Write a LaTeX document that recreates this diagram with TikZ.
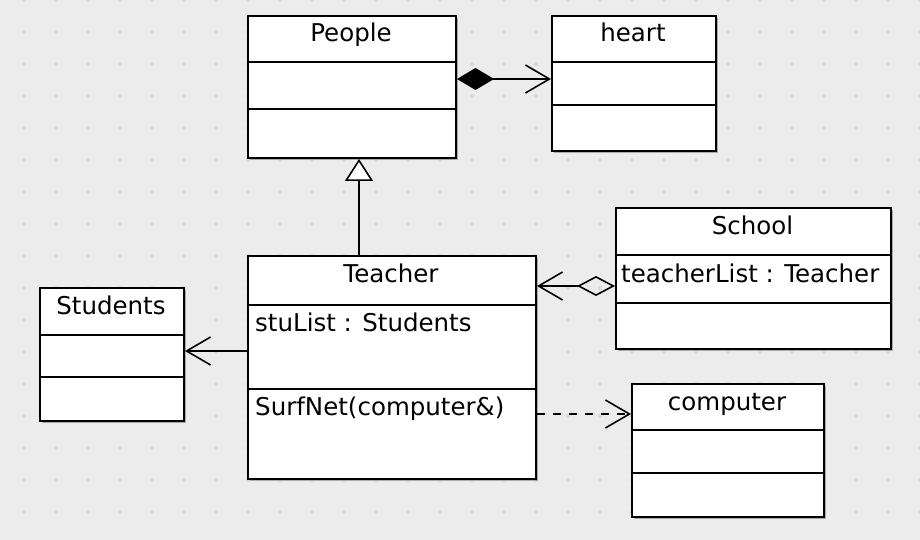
\documentclass[tikz,border=0pt]{standalone}
\usepackage{fontspec}
\setmainfont{DejaVu Sans}
\usetikzlibrary{arrows.meta}
\definecolor{bgcol}{HTML}{ECECEC}
\definecolor{dotcol}{HTML}{DADADA}
\definecolor{shadowcol}{HTML}{ABABAB}
\tikzset{
  classbox/.style={draw=black, fill=white, line width=2pt, inner sep=0pt, rectangle},
  classline/.style={draw=black, line width=2pt},
  titletext/.style={anchor=base, inner sep=0pt, font=\fontsize{24.5}{28}\selectfont},
  attrtext/.style={anchor=base west, inner sep=0pt, font=\fontsize{24.5}{28}\selectfont},
  conn/.style={draw=black, line width=2pt},
  openhead/.style={-{Straight Barb[length=24pt,width=28pt,line width=1.6pt]}},
}
\newcommand\umlclass[8]{%
  \fill[shadowcol] (#2+3,#3+3) rectangle (#4+3,#5+3);
  \node[classbox, minimum width={#4-#2}, minimum height={#5-#3}, anchor=north west] (#1) at (#2,#3) {};
  \draw[classline] (#2,#6) -- (#4,#6);
  \draw[classline] (#2,#7) -- (#4,#7);
  \node[titletext] (#1-title) at ({(#2+#4)/2},#3+27) {#8};
}
\begin{document}
\begin{tikzpicture}[x=1pt,y=-1pt]
\fill[bgcol] (0,0) rectangle (920,540);
\useasboundingbox (0,0) rectangle (920,540);
\foreach \xx in {24,56,...,920} {
  \foreach \yy in {0,32,...,540} {
    \fill[dotcol] (\xx-2,\yy-2) rectangle (\xx+2,\yy+2);
  }
}
\umlclass{People}{247}{15}{455}{157}{62}{109}{People}
\umlclass{heart}{551}{15}{715}{150}{62}{105}{heart}
\umlclass{Teacher}{247}{255}{535}{478}{305}{389}{Teacher}
\umlclass{Students}{39}{287}{183}{420}{335}{377}{Students}
\umlclass{School}{615}{207}{890}{348}{255}{303}{School}
\umlclass{computer}{631}{383}{823}{516}{430}{473}{computer}

\node[attrtext] (stulist) at (255,331) {stuList : Students};
\node[attrtext] (surfnet) at (255,415) {SurfNet(computer\&)};
\node[attrtext] (teacherlist) at (621,282) {teacherList : Teacher};

% composition People -> heart
\coordinate (pA) at ([yshift=-64pt]People.north east);
\draw[conn, {Diamond[length=37pt,width=22pt]}-{Straight Barb[length=24pt,width=28pt,line width=1.6pt]}] (pA) -- (pA -| heart.west);

% generalization Teacher -> People
\coordinate (gA) at ([xshift=112pt]Teacher.north west);
\draw[conn, -{Triangle[open,length=22pt,width=28pt,fill=white,line width=1.6pt]}] (gA) -- (gA |- People.south);

% association Teacher -> Students
\coordinate (tA) at ([yshift=-96pt]Teacher.north west);
\draw[conn, openhead] (tA) -- (tA -| Students.east);

% aggregation School -> Teacher
\coordinate (sA) at ([yshift=-79pt]School.north west);
\draw[conn, {Diamond[open,length=38pt,width=20pt,line width=1.6pt]}-{Straight Barb[length=24pt,width=28pt,line width=1.6pt]}] (sA) -- (sA -| Teacher.east);

% dependency Teacher -> computer
\coordinate (dA) at ([yshift=-159pt]Teacher.north east);
\draw[conn, dash pattern=on 8pt off 8pt, openhead] (dA) -- (dA -| computer.west);
\end{tikzpicture}
\end{document}
